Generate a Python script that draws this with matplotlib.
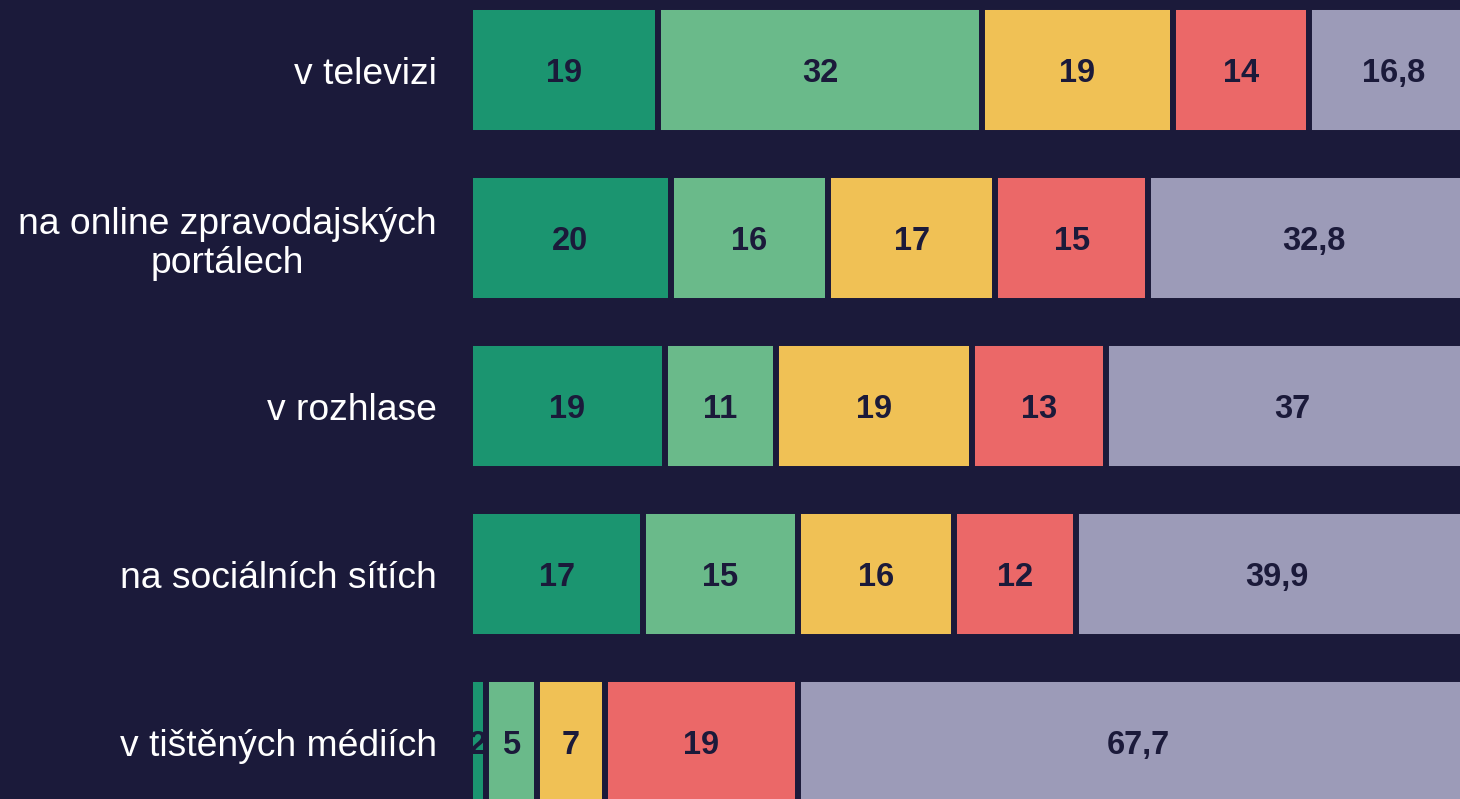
import matplotlib
matplotlib.use("Agg")
import matplotlib.pyplot as plt
from matplotlib import font_manager
import numpy as np

BG = "#1b1a3a"
TEXT_DARK = "#1b1a3a"

CATEGORIES = [
    "v televizi",
    "na online zpravodajských\nportálech",
    "v rozhlase",
    "na sociálních sítích",
    "v tištěných médiích",
]
SERIES_COLORS = ["#1b9570", "#6aba8a", "#f0c155", "#eb6868", "#9c9bb8"]

# bar widths (per category, five segments)
VALUES_1 = [18.7, 19.9, 19.3, 17.2, 1.6]
VALUES_2 = [32.1, 15.6, 11.1, 15.3, 5.0]
VALUES_3 = [18.9, 16.6, 19.4, 15.5, 6.8]
VALUES_4 = [13.5, 15.2, 13.3, 12.1, 19.1]
VALUES_5 = [16.8, 32.8, 37.0, 39.9, 67.7]

# labels as printed in the bars
LABELS_1 = ["19", "20", "19", "17", "2"]
LABELS_2 = ["32", "16", "11", "15", "5"]
LABELS_3 = ["19", "17", "19", "16", "7"]
LABELS_4 = ["14", "15", "13", "12", "19"]
LABELS_5 = ["16,8", "32,8", "37", "39,9", "67,7"]

SERIES = [VALUES_1, VALUES_2, VALUES_3, VALUES_4, VALUES_5]
LABELS = [LABELS_1, LABELS_2, LABELS_3, LABELS_4, LABELS_5]


def _font(weight):
    # pick regular Liberation Sans (not the Narrow variant) by file
    for f in font_manager.fontManager.ttflist:
        if f.name == "Liberation Sans" and f.style == "normal" and f.weight == weight:
            return font_manager.FontProperties(fname=f.fname)
    return font_manager.FontProperties(family="Liberation Sans",
                                       weight="bold" if weight == 700 else "normal")


bold = _font(700)
bold.set_size(23.5)
regular = _font(400)
regular.set_size(26.8)

fig = plt.figure(figsize=(14.6, 7.99), dpi=100, facecolor=BG)
ax = fig.add_axes([470 / 1460, 0, 1 - 470 / 1460, 1])
ax.set_facecolor(BG)

y = np.arange(len(CATEGORIES))
left = np.zeros(len(CATEGORIES))
for i, (vals, labs, color) in enumerate(zip(SERIES, LABELS, SERIES_COLORS)):
    vals = np.asarray(vals)
    ax.barh(y, vals, left=left, height=0.75, color=color, edgecolor=BG,
            linewidth=4.3, zorder=2 + 2 * i)
    for yy, l, v, lab in zip(y, left, vals, labs):
        ax.annotate(lab, (l + v / 2, yy), xytext=(0, -2.5), textcoords="offset points",
                    ha="center", va="center", color=TEXT_DARK,
                    fontproperties=bold, zorder=3 + 2 * i)
    left = left + vals

ax.set_xlim(0, (1460 - 470) / 10.08)
ax.set_ylim(4 + 57 / 168, -70 / 168)
ax.set_yticks(y)
ax.set_yticklabels(CATEGORIES, color="white", fontproperties=regular,
                   linespacing=1.15, multialignment="center")
ax.tick_params(axis="y", length=0, pad=24)
ax.set_xticks([])
for s in ax.spines.values():
    s.set_visible(False)

fig.savefig("out.png", dpi=100, facecolor=BG)
